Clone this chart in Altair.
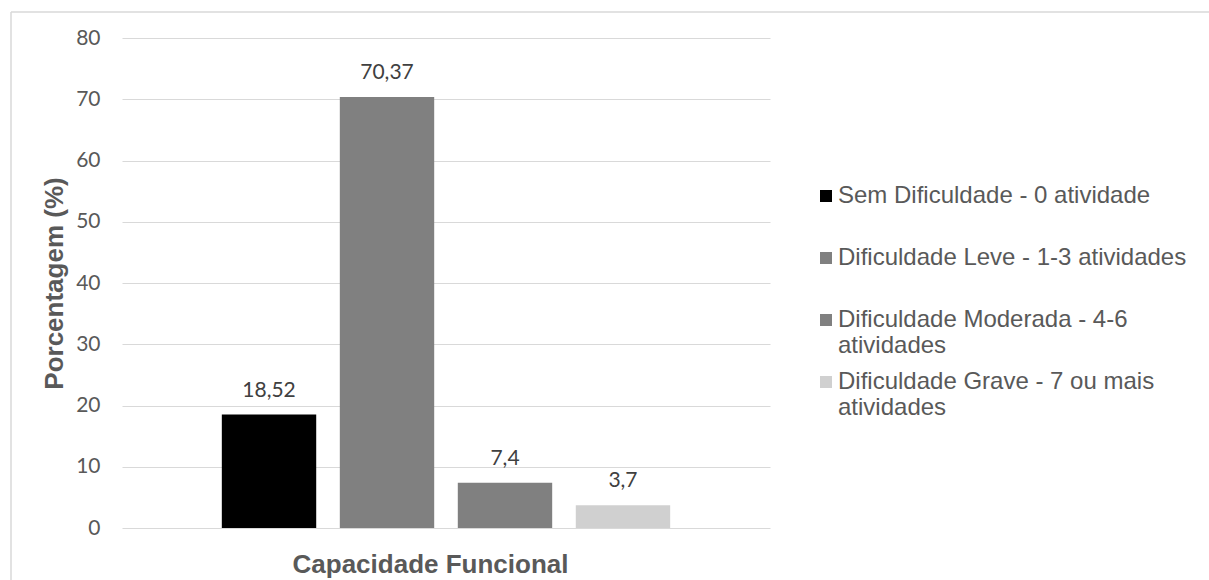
import altair as alt
import pandas as pd

categories = [
    "Sem Dificuldade - 0 atividade",
    "Dificuldade Leve - 1-3 atividades",
    "Dificuldade Moderada - 4-6 atividades",
    "Dificuldade Grave - 7 ou mais atividades",
]
values = [18.52, 70.37, 7.4, 3.7]
value_labels = ["18,52", "70,37", "7,4", "3,7"]
legend_line1 = [
    "Sem Dificuldade - 0 atividade",
    "Dificuldade Leve - 1-3 atividades",
    "Dificuldade Moderada - 4-6",
    "Dificuldade Grave - 7 ou mais",
]
legend_line2 = ["", "", "atividades", "atividades"]
colors = ["#000000", "#808080", "#808080", "#d0d0d0"]
y_ticks = [0, 10, 20, 30, 40, 50, 60, 70, 80]

df = pd.DataFrame({"cat": categories, "val": values, "lab": value_labels})

# legend label expression: two-line labels (second line may be empty)
expr = "''"
for c, l1, l2 in reversed(list(zip(categories, legend_line1, legend_line2))):
    expr = f"datum.label == '{c}' ? ['{l1}', '{l2}'] : ({expr})"

x_enc = alt.X(
    "cat:N",
    sort=categories,
    scale=alt.Scale(paddingInner=0.2, paddingOuter=0.846),
    axis=alt.Axis(
        labels=False, ticks=False, domain=False, grid=False,
        title="Capacidade Funcional",
        titleFont="Liberation Sans", titleFontSize=26, titleFontWeight="bold",
        titleColor="#595959", titleX=308, titleY=44, titleAlign="center",
        titleBaseline="alphabetic",
    ),
)
y_enc = alt.Y(
    "val:Q",
    scale=alt.Scale(domain=[0, 80], nice=False, zero=True),
    axis=alt.Axis(
        values=y_ticks, ticks=False, tickSize=0, domain=False,
        gridColor="#d9d9d9", gridWidth=1,
        labelFont="Lato", labelFontSize=21, labelColor="#595959", labelPadding=22,
        title="Porcentagem (%)",
        titleFont="Liberation Sans", titleFontSize=26, titleFontWeight="bold",
        titleColor="#595959", titleAngle=270, titleX=-60, titleY=245,
        titleAlign="center", titleBaseline="alphabetic",
    ),
)

bars = alt.Chart(df).mark_bar().encode(
    x=x_enc,
    y=y_enc,
    color=alt.Color(
        "cat:N",
        sort=categories,
        scale=alt.Scale(domain=categories, range=colors),
        legend=alt.Legend(
            orient="none", legendX=692, legendY=146, title=None,
            symbolType="square", symbolSize=144, symbolStrokeWidth=0, symbolOpacity=1,
            labelFont="Liberation Sans", labelFontSize=24, labelColor="#595959",
            labelOffset=0, labelLimit=600, rowPadding=12,
            padding=0, labelExpr=expr,
        ),
    ),
)

texts = alt.Chart(df).mark_text(
    baseline="alphabetic", dy=-18, font="Lato", fontSize=21, color="#404040"
).encode(
    x=alt.X("cat:N", sort=categories),
    y=alt.Y("val:Q"),
    text="lab:N",
)

frame_df = pd.DataFrame({"a": [0]})
frame_v = alt.Chart(frame_df).mark_rule(color="#d9d9d9", strokeWidth=1.5).encode(
    x=alt.value(-111), y=alt.value(-26), y2=alt.value(560)
)
frame_h = alt.Chart(frame_df).mark_rule(color="#d9d9d9", strokeWidth=1.5).encode(
    x=alt.value(-111), x2=alt.value(1100), y=alt.value(-26)
)

chart = alt.layer(frame_v, frame_h, bars, texts).properties(
    width=648, height=490,
    background="white",
    autosize=alt.AutoSizeParams(type="none"),
    padding={"left": 122, "top": 38, "right": 439, "bottom": 52},
).configure_view(strokeWidth=0, stroke="transparent")

chart.save("out.html", embed_options={"renderer": "svg", "actions": False})
